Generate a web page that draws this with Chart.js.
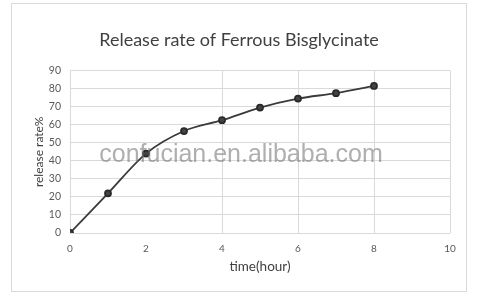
<!DOCTYPE html>
<html>
<head>
<meta charset="utf-8">
<script src="https://cdn.jsdelivr.net/npm/chart.js@4"></script>
<style>
  html, body { margin: 0; padding: 0; background: #fff; }
  #wrap { width: 481px; height: 302px; }
</style>
</head>
<body>
<div id="wrap"><canvas id="releaseChart" width="481" height="302"></canvas></div>
<script>
// Chart data
const hours = [0, 1, 2, 3, 4, 5, 6, 7, 8];
const releaseRate = [0, 22, 44, 56.5, 62.5, 69.5, 74.5, 77.5, 81.5];
const xTicks = [0, 2, 4, 6, 8, 10];
const yTicks = [0, 10, 20, 30, 40, 50, 60, 70, 80, 90];

const FONT = 'Lato, "Open Sans", sans-serif';

// outer frame + watermark
const decor = {
  id: 'decor',
  beforeDraw(chart) {
    const c = chart.ctx;
    c.save();
    c.fillStyle = '#fff';
    c.fillRect(0, 0, chart.width, chart.height);
    c.strokeStyle = '#d9d9d9';
    c.lineWidth = 1;
    c.strokeRect(11.5, 3.5, 455, 288);
    c.restore();
  },
  afterDraw(chart) {
    const c = chart.ctx;
    c.save();
    c.font = '25px "Liberation Sans", Arial, sans-serif';
    c.fillStyle = 'rgba(110,110,110,0.55)';
    c.textAlign = 'center';
    c.textBaseline = 'middle';
    c.fillText('confucian.en.alibaba.com', 241, 155);
    c.restore();
  }
};

new Chart(document.getElementById('releaseChart'), {
  type: 'line',
  data: {
    datasets: [{
      label: 'release rate%',
      data: hours.map((h, i) => ({ x: h, y: releaseRate[i] })),
      borderColor: '#3a3a3a',
      backgroundColor: '#444',
      pointBorderColor: '#2a2a2a',
      borderWidth: 1.8,
      pointRadius: 3,
      cubicInterpolationMode: 'monotone'
    }]
  },
  options: {
    responsive: false,
    animation: false,
    layout: { padding: { left: 28, right: 31, top: 29, bottom: 19 } },
    plugins: {
      legend: { display: false },
      tooltip: { enabled: false },
      title: {
        display: true,
        text: 'Release rate of Ferrous Bisglycinate',
        color: '#404040',
        font: { family: FONT, size: 18, weight: 'normal' },
        padding: { top: 0, bottom: 20 }
      }
    },
    scales: {
      x: {
        type: 'linear',
        min: 0,
        max: 10,
        afterBuildTicks: s => { s.ticks = xTicks.map(v => ({ value: v })); },
        afterFit: s => { s.height = 50; },
        grid: {
          color: ctx => (ctx.tick && ctx.tick.value === 2) ? 'rgba(0,0,0,0)' : '#d9d9d9',
          drawTicks: false
        },
        border: { display: false },
        ticks: { color: '#595959', padding: 10, font: { family: FONT, size: 10 } },
        title: {
          display: true,
          text: 'time(hour)',
          color: '#404040',
          font: { family: FONT, size: 13.5 },
          padding: { top: 0, bottom: 8 }
        }
      },
      y: {
        min: 0,
        max: 90,
        afterBuildTicks: s => { s.ticks = yTicks.map(v => ({ value: v })); },
        afterFit: s => { s.width = 42; },
        grid: { color: '#d9d9d9', drawTicks: false },
        border: { display: false },
        ticks: { color: '#595959', padding: 9, font: { family: FONT, size: 10.5 } },
        title: {
          display: true,
          text: 'release rate%',
          color: '#404040',
          font: { family: FONT, size: 12 },
          padding: { top: 4, bottom: 0 }
        }
      }
    }
  },
  plugins: [decor]
});
</script>
</body>
</html>
